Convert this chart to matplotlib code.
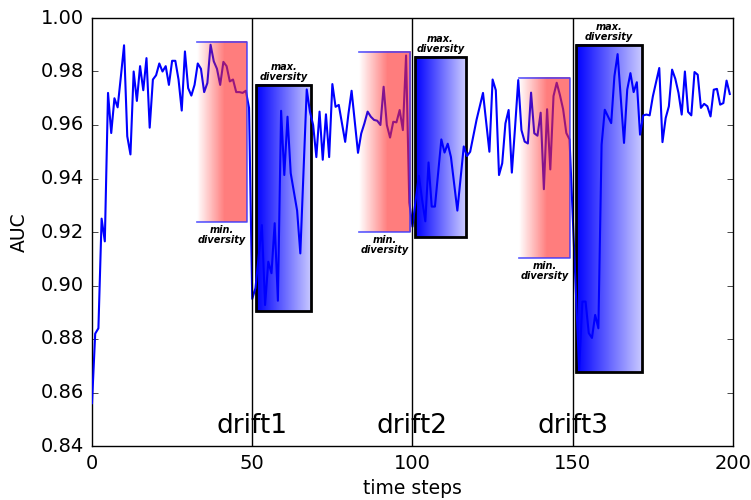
import numpy as np
import matplotlib
matplotlib.use("Agg")
import matplotlib.pyplot as plt

plt.style.use("classic")

auc = [
    0.856, 0.882, 0.884, 0.925, 0.9165, 0.972, 0.957, 0.970, 0.9666, 0.978,
    0.9898, 0.9558, 0.949, 0.980, 0.969, 0.982, 0.973, 0.985, 0.959, 0.977,
    0.9786, 0.983, 0.980, 0.982, 0.975, 0.984, 0.984, 0.977, 0.9654, 0.9875,
    0.9738, 0.971, 0.975, 0.983, 0.981, 0.9723, 0.9757, 0.990, 0.9838, 0.981,
    0.975, 0.9836, 0.982, 0.9763, 0.977, 0.9723, 0.9723, 0.972, 0.9728, 0.9664,
    0.895, 0.899, 0.911, 0.9226, 0.8927, 0.9089, 0.9046, 0.9233, 0.8943, 0.9653,
    0.9413, 0.9631, 0.942, 0.935, 0.928, 0.912, 0.943, 0.9733, 0.965, 0.960,
    0.948, 0.965, 0.947, 0.964, 0.948, 0.9753, 0.9668, 0.9675, 0.9606, 0.9537,
    0.964, 0.9728, 0.961, 0.9496, 0.9568, 0.9606, 0.965, 0.9631, 0.9619, 0.9616,
    0.960, 0.9743, 0.960, 0.9553, 0.9612, 0.961, 0.9656, 0.9581, 0.986, 0.931,
    0.922, 0.932, 0.941, 0.932, 0.924, 0.946, 0.9295, 0.9295, 0.942, 0.9546,
    0.9497, 0.953, 0.948, 0.938, 0.928, 0.940, 0.952, 0.9484, 0.950, 0.956,
    0.962, 0.967, 0.972, 0.961, 0.950, 0.977, 0.973, 0.9413, 0.9457, 0.9606,
    0.9656, 0.9422, 0.959, 0.9768, 0.9581, 0.9538, 0.9531, 0.9721, 0.9569, 0.956,
    0.9646, 0.936, 0.9659, 0.9434, 0.9708, 0.9758, 0.9712, 0.9659, 0.957, 0.9546,
    0.926, 0.897, 0.8685, 0.894, 0.894, 0.8822, 0.8804, 0.889, 0.884, 0.9526,
    0.9657, 0.9632, 0.9607, 0.9782, 0.9865, 0.970, 0.9533, 0.9732, 0.9794, 0.9723,
    0.976, 0.9564, 0.9636, 0.9639, 0.9636, 0.9707, 0.976, 0.9813, 0.9536, 0.9626,
    0.967, 0.9807, 0.9773, 0.972, 0.9639, 0.980, 0.9649, 0.9636, 0.9798, 0.9788,
    0.9664, 0.9679, 0.967, 0.9632, 0.9732, 0.9735, 0.9676, 0.9682, 0.9766, 0.9716,
]
steps = np.arange(len(auc))

drift_pos = [50, 100, 150]
drift_labels = ["drift1", "drift2", "drift3"]

# min-diversity windows (red)
red_x0 = [32.8, 83.3, 133.2]
red_x1 = [48.4, 99.3, 149.1]
red_y0 = [0.9237, 0.920, 0.9103]
red_y1 = [0.991, 0.9873, 0.9776]

# max-diversity windows (blue)
blue_x0 = [51.2, 100.8, 151.0]
blue_x1 = [68.4, 116.7, 171.6]
blue_y0 = [0.8905, 0.918, 0.8677]
blue_y1 = [0.975, 0.9854, 0.990]

fig = plt.figure(figsize=(7.51, 5.0), dpi=100, facecolor="white")
ax = fig.add_axes([0.1225, 0.108, 0.8535, 0.856])
ax.set_facecolor("white")

ax.plot(steps, auc, color="#0000ff", lw=1.5, zorder=3)

n = 256
t = np.linspace(0, 1, n)

# blue gradient windows (below the line)
blue_img = np.zeros((1, n, 4))
blue_img[0, :, 0] = 0.8 * t
blue_img[0, :, 1] = 0.8 * t
blue_img[0, :, 2] = 1.0
blue_img[0, :, 3] = 1.0
for x0, x1, y0, y1 in zip(blue_x0, blue_x1, blue_y0, blue_y1):
    ax.imshow(blue_img, extent=[x0, x1, y0, y1], aspect="auto",
              interpolation="bilinear", zorder=2)
    ax.add_patch(plt.Rectangle((x0, y0), x1 - x0, y1 - y0, fill=False,
                               ec="black", lw=2, zorder=2.5))
    ax.text((x0 + x1) / 2, y1 + 0.001, "max.\ndiversity", ha="center",
            va="bottom", fontsize=7, fontweight="bold", fontstyle="italic",
            linespacing=1.0, zorder=6)

# red gradient windows (above the line)
red_img = np.zeros((1, n, 4))
red_img[0, :, 0] = 1.0
red_img[0, :, 1] = 0.15
red_img[0, :, 2] = 0.15
red_img[0, :, 3] = 0.6 * np.clip(t / 0.55, 0, 1)
for x0, x1, y0, y1 in zip(red_x0, red_x1, red_y0, red_y1):
    ax.imshow(red_img, extent=[x0, x1, y0, y1], aspect="auto",
              interpolation="bilinear", zorder=4)
    ax.plot([x0, x1, x1, x0], [y1, y1, y0, y0], color="#3030ff", lw=1.2,
            alpha=0.8, zorder=4.5)
    ax.text((x0 + x1) / 2, y0 - 0.001, "min.\ndiversity", ha="center",
            va="top", fontsize=7, fontweight="bold", fontstyle="italic",
            linespacing=1.0, zorder=6)

for xp, lab in zip(drift_pos, drift_labels):
    ax.axvline(xp, color="black", lw=1, zorder=5)
    ax.text(xp, 0.8428, lab, ha="center", va="bottom", fontsize=19, zorder=6)

ax.set_xlim(0, 200)
ax.set_ylim(0.84, 1.00)
ax.set_xticks([0, 50, 100, 150, 200])
ax.set_yticks(np.arange(0.84, 1.001, 0.02))
ax.set_yticklabels([f"{v:.2f}" for v in np.arange(0.84, 1.001, 0.02)])
ax.tick_params(labelsize=14, pad=6)
ax.set_xlabel("time steps", fontsize=13.5, labelpad=4)
ax.set_ylabel("AUC", fontsize=13.5, labelpad=8)

fig.savefig("out.png", dpi=100, facecolor="white")
